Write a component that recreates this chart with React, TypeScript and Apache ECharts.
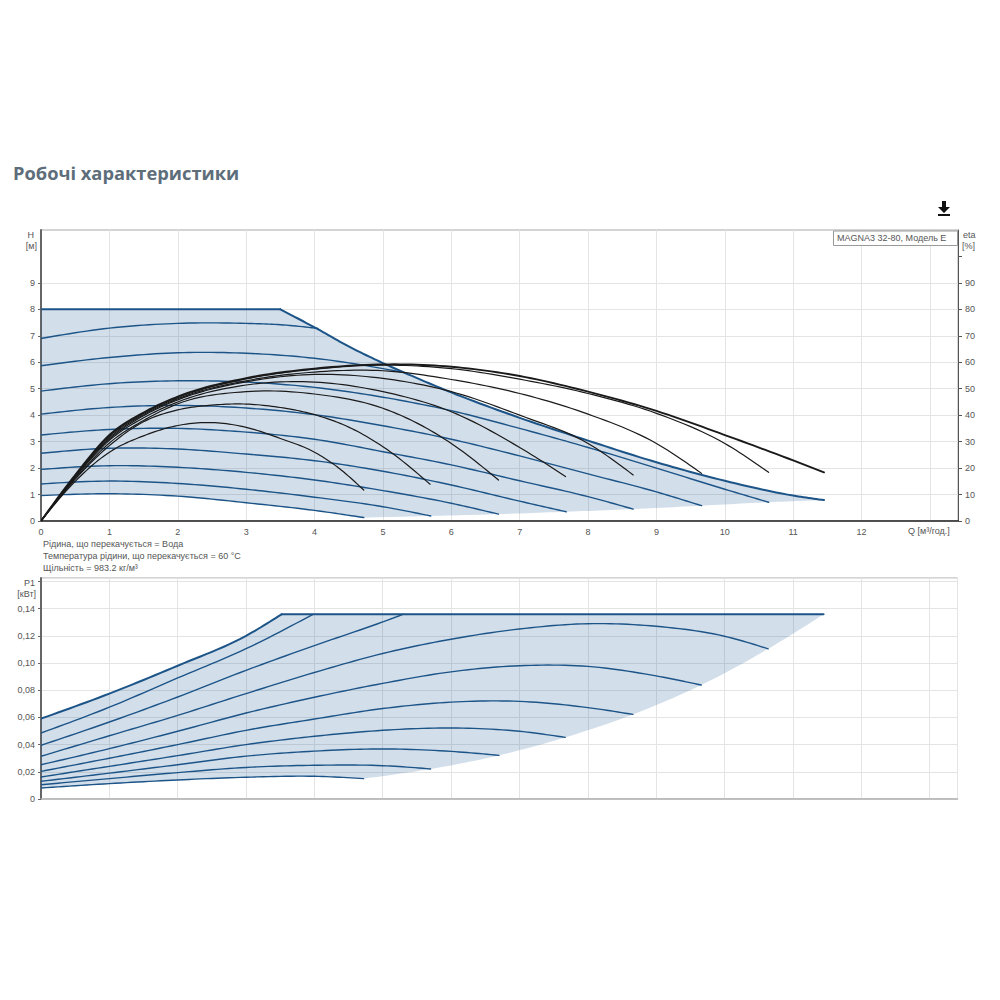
import React, { useEffect, useRef } from "react";
import * as echarts from "echarts";

type Pt = [number, number];

const qTicks = [0, 1, 2, 3, 4, 5, 6, 7, 8, 9, 10, 11, 12];
const hTicks = [0, 1, 2, 3, 4, 5, 6, 7, 8, 9];
const etaTicks = [0, 10, 20, 30, 40, 50, 60, 70, 80, 90, 100];

const title = "Робочі характеристики";
const modelLabel = "MAGNA3 32-80, Модель E";
const notes = [
  "Рідина, що перекачується = Вода",
  "Температура рідини, що перекачується = 60 °C",
  "Щільність = 983.2 кг/м³",
];

// H(Q) upper envelope
const hMaxFlat: Pt[] = [[0, 8], [3.5, 8]];
const hMaxCurve: Pt[] = [[3.5, 8], [4, 7.32], [4.5, 6.6], [5, 5.97], [5.5, 5.4], [6, 4.86], [7, 3.9], [8, 3.04], [9, 2.22], [10, 1.52], [11, 0.96], [11.45, 0.79]];

// H(Q) constant-speed curves
const hCurve1: Pt[] = [[0, 6.9], [1, 7.29], [2, 7.47], [3, 7.47], [3.5, 7.42], [4.05, 7.28]];
const hCurve2: Pt[] = [[0, 5.87], [1, 6.18], [2, 6.36], [3, 6.34], [4, 6.15], [5, 5.76], [5.25, 5.64]];
const hCurve3: Pt[] = [[0, 4.91], [1, 5.19], [2, 5.3], [3, 5.25], [4, 5.05], [5, 4.68], [6, 4.17], [7, 3.5], [8, 2.78], [9, 2], [10, 1.2], [10.64, 0.71]];
const hCurve4: Pt[] = [[0, 4.04], [1, 4.29], [2, 4.37], [3, 4.27], [4, 4.02], [5, 3.6], [6, 3.09], [7, 2.46], [8, 1.78], [9, 1.1], [9.66, 0.58]];
const hCurve5: Pt[] = [[0, 3.25], [1, 3.46], [2, 3.5], [3, 3.36], [4, 3.09], [5, 2.62], [6, 2.12], [7, 1.52], [8, 0.92], [8.66, 0.45]];
const hCurve6: Pt[] = [[0, 2.56], [1, 2.75], [2, 2.72], [3, 2.53], [4, 2.28], [5, 1.88], [6, 1.36], [7, 0.75], [7.68, 0.35]];
const hCurve7: Pt[] = [[0, 1.95], [1, 2.09], [2, 2.03], [3, 1.84], [4, 1.55], [5, 1.15], [6, 0.67], [6.69, 0.26]];
const hCurve8: Pt[] = [[0, 1.4], [1, 1.51], [2, 1.42], [3, 1.2], [4, 0.9], [5, 0.54], [5.7, 0.19]];
const hCurve9: Pt[] = [[0, 0.96], [1, 1.03], [2, 0.94], [3, 0.69], [4, 0.4], [4.72, 0.13]];
const hLowerEdge: Pt[] = [[4.72, 0.13], [5.7, 0.19], [6.69, 0.26], [7.68, 0.35], [8.66, 0.45], [9.66, 0.58], [10.64, 0.71], [11.45, 0.79]];

// Efficiency curves (%)
const eta1: Pt[] = [[0, 0], [0.5, 15], [1, 26], [1.5, 32.2], [2, 36.1], [2.5, 37.2], [3, 35.4], [3.5, 31.2], [4, 26], [4.33, 20.5], [4.72, 11.7]];
const eta2: Pt[] = [[0, 0], [0.5, 15.8], [1, 28.5], [1.5, 37.5], [2, 42], [2.5, 43.8], [3, 44.2], [3.5, 42.9], [4, 40.2], [4.5, 35.5], [5, 28.1], [5.69, 13.9]];
const eta3: Pt[] = [[0, 0], [0.5, 16], [1, 29.5], [1.5, 38], [2, 44.3], [3, 48.9], [4, 48], [5, 42.6], [5.5, 37], [6, 29.3], [6.69, 15.5]];
const eta4: Pt[] = [[0, 0], [0.5, 16.5], [1, 30.5], [1.5, 39], [2, 45], [3, 51.4], [4, 52.5], [5, 48.9], [6, 41.3], [7, 27.8], [7.67, 16.8]];
const eta5: Pt[] = [[0, 0], [0.5, 16.8], [1, 31], [1.5, 39.8], [2, 45.8], [3, 52.6], [4, 55.4], [5, 53.9], [6, 48.9], [7, 40], [8, 29.3], [8.66, 17.4]];
const eta6: Pt[] = [[0, 0], [0.5, 17], [1, 31.5], [1.5, 40.2], [2, 46.2], [3, 53], [4, 56.3], [5, 56.8], [6, 53.5], [7, 48.2], [8, 40.4], [9, 29.3], [9.66, 18]];
const eta7: Pt[] = [[0, 0], [0.5, 17.2], [1, 32], [1.5, 40.6], [2, 46.6], [3, 53.7], [4, 57.4], [5, 58.9], [6, 57.6], [7, 53.6], [8, 48.2], [9, 40.7], [10, 29.3], [10.64, 18.4]];
const eta8: Pt[] = [[0, 0], [0.5, 17.4], [1, 32.5], [1.5, 41], [2, 47], [3, 54], [4, 57.6], [5, 59.2], [6, 58.3], [7, 54.8], [8, 48.9], [9, 41.6], [10, 32.5], [11, 22.9], [11.45, 18.4]];

// P1(Q) curves (kW)
const pMaxCurve: Pt[] = [[0, 0.0591], [1, 0.0775], [2, 0.098], [3, 0.12], [3.52, 0.1358]];
const pMaxFlat: Pt[] = [[3.52, 0.1358], [11.45, 0.1358]];
const pCurve2: Pt[] = [[0, 0.0485], [1, 0.0675], [2, 0.089], [3, 0.1105], [3.98, 0.1358]];
const pCurve3: Pt[] = [[0, 0.0395], [1, 0.0566], [2, 0.075], [3, 0.0946], [4, 0.1128], [5, 0.1302], [5.3, 0.1358]];
const pCurve4: Pt[] = [[0, 0.0314], [1, 0.0465], [2, 0.0615], [3, 0.0775], [4, 0.093], [5, 0.107], [6, 0.1175], [7, 0.125], [8, 0.1289], [9, 0.127], [10, 0.1197], [10.64, 0.1104]];
const pCurve5: Pt[] = [[0, 0.0252], [1, 0.037], [2, 0.0498], [3, 0.0632], [4, 0.0748], [5, 0.085], [6, 0.0935], [7, 0.098], [8, 0.0975], [9, 0.0905], [9.66, 0.0838]];
const pCurve6: Pt[] = [[0, 0.0203], [1, 0.03], [2, 0.04], [3, 0.0505], [4, 0.0588], [5, 0.0665], [6, 0.0712], [7, 0.0718], [8, 0.0672], [8.66, 0.0622]];
const pCurve7: Pt[] = [[0, 0.0162], [1, 0.024], [2, 0.0319], [3, 0.04], [4, 0.0461], [5, 0.0505], [6, 0.0522], [7, 0.0498], [7.67, 0.0453]];
const pCurve8: Pt[] = [[0, 0.013], [1, 0.019], [2, 0.0252], [3, 0.0315], [4, 0.0352], [5, 0.0368], [6, 0.035], [6.7, 0.0321]];
const pCurve9: Pt[] = [[0, 0.0105], [1, 0.015], [2, 0.0194], [3, 0.0232], [4, 0.0248], [5, 0.0245], [5.7, 0.0221]];
const pCurve10: Pt[] = [[0, 0.0081], [1, 0.0113], [2, 0.014], [3, 0.016], [4, 0.0167], [4.72, 0.015]];
const pLowerEdge: Pt[] = [[4.72, 0.015], [5.7, 0.0221], [6.7, 0.0321], [7.67, 0.0453], [8.66, 0.0622], [9.66, 0.0838], [10.64, 0.1104], [11.45, 0.1358]];

const BLUE = "#1c5488";
const BLACK = "#1a1a1a";
const GRID = "#e4e4e4";
const TEXT = "#555555";
const FONT = "'Liberation Sans', Arial, sans-serif";

// Pixel positions through the axes' scales, joined by a cubic Hermite curve.
// The series' data stay the values.
function curvePixels(data: Pt[], api: any): number[][] {
  const px = data.map((p) => api.coord(p) as number[]);
  if (px.length < 3) return px;
  const n = px.length;
  const d: number[] = [];
  const h: number[] = [];
  for (let i = 0; i < n - 1; i++) {
    h[i] = px[i + 1][0] - px[i][0];
    d[i] = (px[i + 1][1] - px[i][1]) / h[i];
  }
  const m: number[] = new Array(n).fill(0);
  for (let i = 1; i < n - 1; i++) m[i] = (d[i - 1] * h[i] + d[i] * h[i - 1]) / (h[i - 1] + h[i]);
  m[0] = (3 * d[0] - m[1]) / 2;
  m[n - 1] = (3 * d[n - 2] - m[n - 2]) / 2;
  const out: number[][] = [];
  const STEPS = 12;
  for (let i = 0; i < n - 1; i++) {
    for (let k = 0; k < STEPS; k++) {
      const t = k / STEPS;
      const t2 = t * t;
      const t3 = t2 * t;
      const y = (2 * t3 - 3 * t2 + 1) * px[i][1] + (t3 - 2 * t2 + t) * h[i] * m[i] + (-2 * t3 + 3 * t2) * px[i + 1][1] + (t3 - t2) * h[i] * m[i + 1];
      out.push([px[i][0] + t * h[i], y]);
    }
  }
  out.push(px[n - 1]);
  return out;
}

function fill(top: Pt[][], lower: Pt[][], xAxisIndex: number, yAxisIndex: number) {
  return {
    type: "custom",
    xAxisIndex,
    yAxisIndex,
    silent: true,
    clip: true,
    z: 1,
    data: top.concat(lower).flat(),
    renderItem: (params: any, api: any) => {
      if (params.dataIndex !== 0) return null;
      const upper = top.flatMap((seg) => curvePixels(seg, api));
      const under = lower.flatMap((seg) => curvePixels(seg, api).reverse());
      return {
        type: "polygon",
        shape: { points: upper.concat(under) },
        style: { fill: "rgb(31,90,150)", opacity: 0.2 },
      };
    },
  };
}

function line(data: Pt[], xAxisIndex: number, yAxisIndex: number, color: string, width: number, z = 3) {
  return {
    type: "custom",
    xAxisIndex,
    yAxisIndex,
    data,
    silent: true,
    clip: true,
    z,
    renderItem: (params: any, api: any) => {
      if (params.dataIndex !== 0) return null;
      return {
        type: "polyline",
        shape: { points: curvePixels(data, api) },
        style: { fill: null, stroke: color, lineWidth: width, lineCap: "round", lineJoin: "round" },
      };
    },
  };
}

function text(x: number, y: number, t: string, extra: any = {}) {
  return {
    type: "text",
    x,
    y,
    silent: true,
    style: { text: t, fill: TEXT, font: `9px ${FONT}`, textVerticalAlign: "middle", ...extra },
  };
}

export default function App() {
  const ref = useRef<HTMLDivElement>(null);
  useEffect(() => {
    const chart = echarts.init(ref.current!, undefined, { renderer: "svg" });
    const xBase = (gridIndex: number, showLabels: boolean, axisColor: string) => ({
      type: "value",
      gridIndex,
      min: 0,
      max: 13.41,
      interval: 1,
      axisLine: { show: true, onZero: false, lineStyle: { color: axisColor, width: 1.5 } },
      axisTick: { show: false },
      axisLabel: {
        show: showLabels,
        margin: 6,
        fontSize: 9,
        fontFamily: FONT,
        color: TEXT,
        showMaxLabel: false,
        formatter: (v: number) => (qTicks.includes(v) ? String(v) : ""),
      },
      splitLine: { show: true, lineStyle: { color: GRID, width: 1 } },
    });
    chart.setOption({
      animation: false,
      backgroundColor: "#ffffff",
      grid: [
        { left: 41, top: 230, width: 917, height: 291, show: true, borderColor: "#a8a8a8", borderWidth: 1, backgroundColor: "transparent" },
        { left: 41, top: 578, width: 916.5, height: 221, show: true, borderColor: "#a8a8a8", borderWidth: 1, backgroundColor: "transparent" },
      ],
      xAxis: [xBase(0, true, "#222222"), xBase(1, false, "#b4b4b4")],
      yAxis: [
        {
          type: "value",
          gridIndex: 0,
          min: 0,
          max: 11,
          interval: 1,
          axisLine: { show: true, lineStyle: { color: "#666666", width: 2 } },
          axisTick: { show: true, length: 3, lineStyle: { color: "#666666" }, customValues: hTicks },
          axisLabel: {
            margin: 6,
            fontSize: 9,
            fontFamily: FONT,
            color: TEXT,
            customValues: hTicks,
            formatter: (v: number) => String(v),
          },
          splitLine: { show: true, lineStyle: { color: GRID, width: 1 } },
        },
        {
          type: "value",
          gridIndex: 0,
          position: "right",
          min: 0,
          max: 110,
          interval: 10,
          axisLine: { show: true, lineStyle: { color: "#555555", width: 1 } },
          axisTick: { show: true, length: 4, lineStyle: { color: "#555555" }, customValues: etaTicks },
          axisLabel: {
            margin: 7,
            fontSize: 9,
            fontFamily: FONT,
            color: TEXT,
            customValues: etaTicks,
            formatter: (v: number) => (v >= 100 ? "" : String(v)),
          },
          splitLine: { show: false },
        },
        {
          type: "value",
          gridIndex: 1,
          min: 0,
          max: 0.1625,
          interval: 0.02,
          axisLine: { show: true, lineStyle: { color: "#666666", width: 2 } },
          axisTick: { show: true, length: 3, lineStyle: { color: "#666666" } },
          axisLabel: {
            margin: 6,
            fontSize: 9,
            fontFamily: FONT,
            color: TEXT,
            showMaxLabel: false,
            formatter: (v: number) => {
              if (v === 0) return "0";
              if (v > 0.15) return "";
              return v.toFixed(2).replace(".", ",");
            },
          },
          splitLine: { show: true, lineStyle: { color: GRID, width: 1 } },
        },
      ],
      series: [
        fill([hMaxFlat, hMaxCurve], [hLowerEdge, hCurve9], 0, 0),
        fill([pMaxCurve, pMaxFlat], [pLowerEdge, pCurve10], 1, 2),
        ...[hCurve1, hCurve2, hCurve3, hCurve4, hCurve5, hCurve6, hCurve7, hCurve8, hCurve9].map((d) => line(d, 0, 0, BLUE, 1.4)),
        line(hMaxFlat, 0, 0, BLUE, 2),
        line(hMaxCurve, 0, 0, BLUE, 2),
        ...[eta1, eta2, eta3, eta4, eta5, eta6, eta7].map((d) => line(d, 0, 1, BLACK, 1.2, 4)),
        line(eta8, 0, 1, BLACK, 1.9, 4),
        ...[pCurve2, pCurve3, pCurve4, pCurve5, pCurve6, pCurve7, pCurve8, pCurve9, pCurve10].map((d) => line(d, 1, 2, BLUE, 1.4)),
        line(pMaxCurve, 1, 2, BLUE, 2),
        line(pMaxFlat, 1, 2, BLUE, 2),
      ],
      graphic: [
        { type: "text", x: 13, y: 172.5, silent: true, style: { text: title, fill: "#5d6d7a", font: `bold 18.3px 'Open Sans', sans-serif`, textVerticalAlign: "middle" } },
        { type: "polygon", silent: true, shape: { points: [[942, 201], [946, 201], [946, 207], [950, 207], [944, 213], [938, 207], [942, 207]] }, style: { fill: "#111111" } },
        { type: "rect", silent: true, shape: { x: 938, y: 214, width: 12, height: 2 }, style: { fill: "#111111" } },
        { type: "rect", z: 10, shape: { x: 833.5, y: 231, width: 124, height: 14.5 }, style: { fill: "#ffffff", stroke: "#9a9a9a", lineWidth: 1 } },
        { ...text(837, 238, modelLabel), z: 11 },
        text(34, 235, "H", { textAlign: "right" }),
        text(37, 246, "[м]", { textAlign: "right" }),
        text(963, 235, "eta"),
        text(962, 246, "[%]"),
        text(908, 531, "Q [м³/год.]"),
        text(43, 544, notes[0]),
        text(43, 556, notes[1]),
        text(43, 568, notes[2]),
        text(35, 583, "P1", { textAlign: "right" }),
        text(36, 594, "[кВт]", { textAlign: "right" }),
      ],
    });
    return () => chart.dispose();
  }, []);
  return <div ref={ref} style={{ position: "absolute", left: 0, top: 0, width: 1000, height: 1000 }} />;
}
